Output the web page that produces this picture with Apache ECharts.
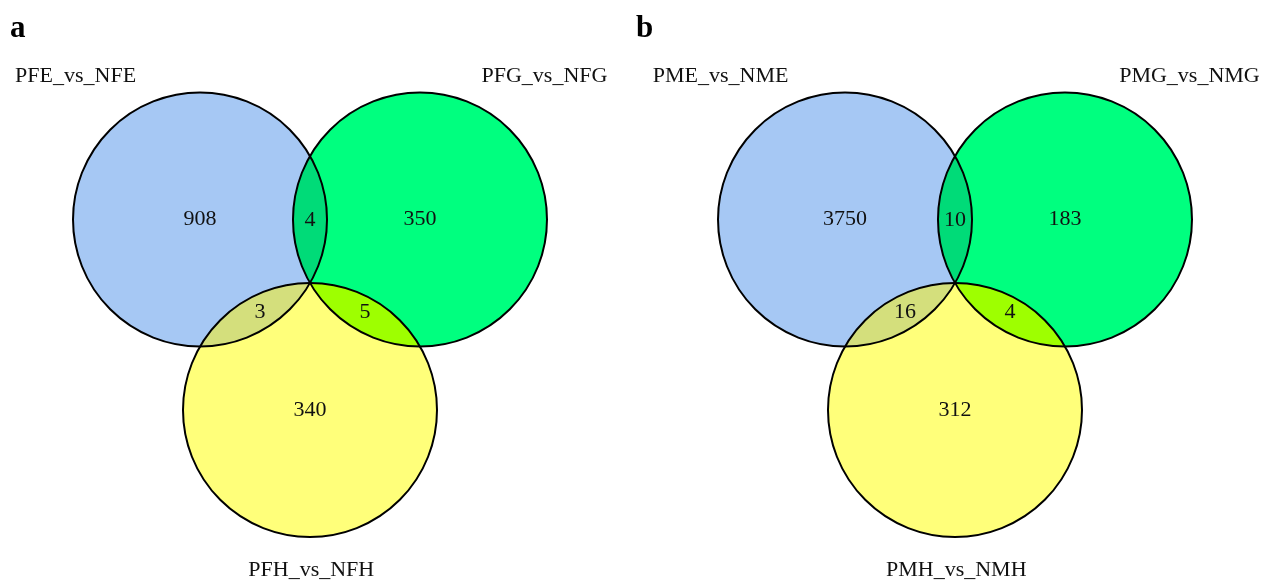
<!DOCTYPE html>
<html>
<head>
<meta charset="utf-8">
<script src="https://cdn.jsdelivr.net/npm/echarts@6/dist/echarts.min.js"></script>
<style>
  html, body { margin: 0; padding: 0; background: #ffffff; }
  #chart { width: 1262px; height: 581px; }
</style>
</head>
<body>
<div id="chart"></div>
<script>
// Panel letters and set names
const panelLetters = ['a', 'b'];
const setNamesA = ['PFE_vs_NFE', 'PFG_vs_NFG', 'PFH_vs_NFH'];
const setNamesB = ['PME_vs_NME', 'PMG_vs_NMG', 'PMH_vs_NMH'];

// Venn regions: which sets (by index) each region belongs to
const regionSets = [[0], [1], [2], [0, 1], [0, 2], [1, 2]];

// Element counts per region, same order as regionSets
const countsA = [908, 350, 340, 4, 3, 5];
const countsB = [3750, 183, 312, 10, 16, 4];

// Diagram layout in axis units: unit circles on an equilateral triangle,
// all three meeting at the origin.
const R = 1;
const CENTERS = [[-Math.sqrt(3) / 2, 0.5], [Math.sqrt(3) / 2, 0.5], [0, -1]];
const SET_LABEL_POS = [[-1.846, 1.63], [1.846, 1.63], [0.01, -2.26]];
// small pixel nudges for the count labels of each region
const LABEL_NUDGE = [[0, 0], [0, 0], [0, 0], [0, 1], [5, -3], [0, -3]];
const REGION_COLORS = ['#A6C8F4', '#00FF7F', '#FFFF7A', '#00DB78', '#D4DF7C', '#9EFF00'];
const FONT = 'Liberation Serif, Times New Roman, serif';

function textEl(x, y, text, size, weight) {
  return {
    type: 'text', x: x, y: y, z2: 3,
    style: {
      text: text, fontFamily: FONT, fontSize: size, fontWeight: weight || 'normal',
      fill: '#111111', align: 'center', verticalAlign: 'middle'
    }
  };
}

function arcPoints(C, r, from, to) {
  const a0 = Math.atan2(from[1] - C[1], from[0] - C[0]);
  const a1 = Math.atan2(to[1] - C[1], to[0] - C[0]);
  let da = a1 - a0;
  while (da > Math.PI) da -= 2 * Math.PI;
  while (da < -Math.PI) da += 2 * Math.PI;
  const pts = [];
  const n = 40;
  for (let k = 0; k <= n; k++) {
    const t = a0 + da * k / n;
    pts.push([C[0] + r * Math.cos(t), C[1] + r * Math.sin(t)]);
  }
  return pts;
}

function makeRenderer(setNames) {
  return function (params, api) {
    const idx = params.dataIndex;
    const sets = regionSets[idx];
    const count = api.value(1);
    const c = CENTERS.map(function (p) { return api.coord(p); });
    const rpx = api.size([R, R])[0];
    const nudge = LABEL_NUDGE[idx];
    const children = [];

    if (sets.length === 1) {
      const s = sets[0];
      children.push({
        type: 'circle', z2: 0,
        shape: { cx: c[s][0], cy: c[s][1], r: rpx },
        style: { fill: REGION_COLORS[idx], stroke: null }
      });
      children.push({
        type: 'circle', z2: 2, silent: true,
        shape: { cx: c[s][0], cy: c[s][1], r: rpx },
        style: { fill: null, stroke: '#000000', lineWidth: 2 }
      });
      children.push(textEl(c[s][0] + nudge[0], c[s][1] + nudge[1], String(count), 22));
      const lp = api.coord(SET_LABEL_POS[s]);
      children.push(textEl(lp[0], lp[1], setNames[s], 22));
    } else {
      const A = c[sets[0]], B = c[sets[1]];
      const dx = B[0] - A[0], dy = B[1] - A[1];
      const d = Math.hypot(dx, dy);
      const h = Math.sqrt(Math.max(rpx * rpx - d * d / 4, 0));
      const mx = (A[0] + B[0]) / 2, my = (A[1] + B[1]) / 2;
      const ux = -dy / d, uy = dx / d;
      const P = [mx + ux * h, my + uy * h];
      const Q = [mx - ux * h, my - uy * h];
      const pts = arcPoints(A, rpx, P, Q).concat(arcPoints(B, rpx, Q, P));
      children.push({
        type: 'polygon', z2: 1,
        shape: { points: pts },
        style: { fill: REGION_COLORS[idx], stroke: null }
      });
      children.push(textEl(mx + nudge[0], my + nudge[1], String(count), 22));
    }
    return { type: 'group', children: children };
  };
}

const chart = echarts.init(document.getElementById('chart'), null, { renderer: 'canvas' });

const grids = [
  { left: 56, top: 29, width: 508, height: 508 },
  { left: 701, top: 29, width: 508, height: 508 }
];
const axisBase = { type: 'value', min: -2, max: 2, show: false, splitLine: { show: false } };

chart.setOption({
  animation: false,
  backgroundColor: '#ffffff',
  grid: grids,
  xAxis: [Object.assign({ gridIndex: 0 }, axisBase), Object.assign({ gridIndex: 1 }, axisBase)],
  yAxis: [Object.assign({ gridIndex: 0 }, axisBase), Object.assign({ gridIndex: 1 }, axisBase)],
  graphic: [
    { type: 'text', x: 10, y: 29, style: { text: panelLetters[0], fontFamily: FONT, fontSize: 31, fontWeight: 'bold', fill: '#000', verticalAlign: 'middle' } },
    { type: 'text', x: 636, y: 29, style: { text: panelLetters[1], fontFamily: FONT, fontSize: 31, fontWeight: 'bold', fill: '#000', verticalAlign: 'middle' } }
  ],
  series: [
    {
      type: 'custom', xAxisIndex: 0, yAxisIndex: 0, clip: false,
      renderItem: makeRenderer(setNamesA),
      data: countsA.map(function (v, i) { return [i, v]; })
    },
    {
      type: 'custom', xAxisIndex: 1, yAxisIndex: 1, clip: false,
      renderItem: makeRenderer(setNamesB),
      data: countsB.map(function (v, i) { return [i, v]; })
    }
  ]
});
</script>
</body>
</html>
